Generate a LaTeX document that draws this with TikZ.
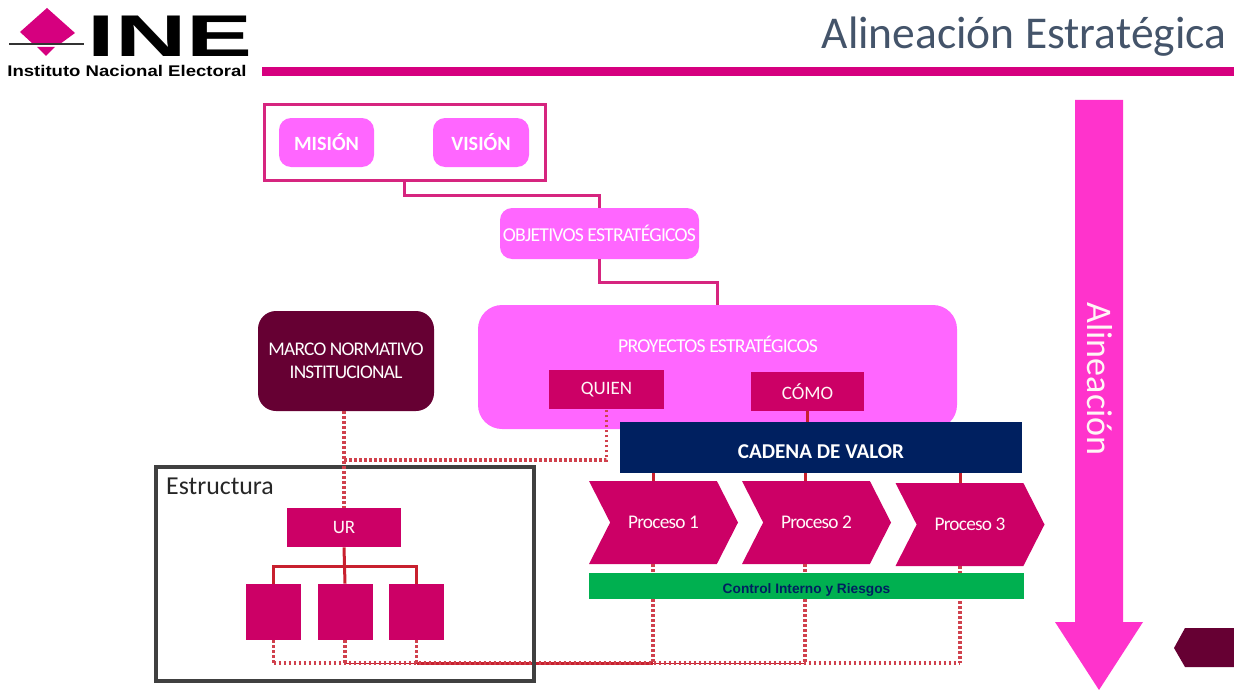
\documentclass[tikz,border=0pt]{standalone}
\usepackage{fontspec}
\setmainfont{Carlito}
\newfontfamily\tightfont[LetterSpace=-4]{Carlito}
\newfontfamily\logofont{Liberation Sans}
\usepackage{tikz}
\usetikzlibrary{calc,positioning,shapes.symbols}
\definecolor{inepink}{HTML}{D6007F}
\definecolor{softpink}{HTML}{FF66FF}
\definecolor{hotpink}{HTML}{FF33CC}
\definecolor{deeppink}{HTML}{CC0066}
\definecolor{wine}{HTML}{660033}
\definecolor{navy}{HTML}{002060}
\definecolor{linkred}{HTML}{C8202E}
\definecolor{framepink}{HTML}{D6257F}
\definecolor{titlegrey}{HTML}{44546A}
\definecolor{greenbar}{HTML}{00B050}

\begin{document}
\begin{tikzpicture}

\tikzset{softbox/.style={fill=softpink,rounded corners=.24cm,text=white,inner sep=0pt},
deepbox/.style={fill=deeppink,text=white!85!pink,inner sep=0pt},
proceso/.style={shape=signal,signal from=west,signal to=east,signal pointer angle=126,fill=deeppink,text=white!90!pink,inner sep=0pt,minimum width=2.98cm,minimum height=1.66cm,font=\fontsize{11}{13}\tightfont},
pinklink/.style={draw=framepink,line width=.06cm},
redlink/.style={draw=linkred,line width=.06cm},
dotlink/.style={draw=linkred!85,line width=.07cm,dash pattern=on .05cm off .05cm}}

\useasboundingbox (0,0) rectangle (24.68,-13.8);

% Header
\fill[inepink] (0.94,-0.16) -- (1.5,-0.66) -- (1.2,-0.88) -- (0.66,-0.88) -- (0.4,-0.64) -- cycle;
\fill[inepink] (0.74,-0.94) -- (1.1,-0.94) -- (0.92,-1.12) -- cycle;
\fill[black!80] (0.18,-0.87) -- (1.68,-0.87) -- (1.68,-0.91) -- (0.18,-0.91) -- cycle;
\node[inner sep=0pt,anchor=center,xscale=1.68,transform shape,font=\fontsize{33.5}{34}\logofont\bfseries] (ine) at (3.4,-0.72) {INE};
\node[inner sep=0pt,xscale=1.2,transform shape,font=\fontsize{8.8}{10}\logofont\bfseries] (inename) at (2.54,-1.42) {Instituto Nacional Electoral};
\fill[inepink] (5.24,-1.34) rectangle (24.68,-1.52);
\node[inner sep=0pt,text=titlegrey,font=\fontsize{25.9}{28}\selectfont] (title) at (20.48,-0.74) {Alineación Estratégica};

% Top boxes
\node[pinklink,draw,minimum width=5.62cm,minimum height=1.5cm,inner sep=0pt] (mv) at (8.09,-2.85) {};
\node[softbox,minimum width=1.9cm,minimum height=.98cm,font=\fontsize{11.5}{13}\bfseries] (mision) at (6.53,-2.85) {MISIÓN};
\node[softbox,minimum width=1.92cm,minimum height=.98cm,font=\fontsize{11.5}{13}\bfseries] (vision) at (9.62,-2.85) {VISIÓN};
\node[softbox,minimum width=3.98cm,minimum height=1.02cm,font=\fontsize{11.2}{13}\tightfont] (obj) at (11.99,-4.67) {OBJETIVOS ESTRATÉGICOS};
\node[softbox,minimum width=9.58cm,minimum height=2.48cm,rounded corners=.48cm] (proy) at (14.35,-7.34) {};
\node[inner sep=0pt,text=white,font=\fontsize{11.2}{13}\tightfont] (proylabel) at (14.36,-6.88) {PROYECTOS ESTRATÉGICOS};
\node[deepbox,minimum width=2.3cm,minimum height=.78cm,font=\fontsize{10.8}{12}\selectfont] (quien) at (12.13,-7.79) {QUIEN};
\node[deepbox,minimum width=2.26cm,minimum height=.78cm,font=\fontsize{10.8}{12}\selectfont] (como) at (16.15,-7.83) {CÓMO};
\node[fill=wine,rounded corners=.36cm,text=white,inner sep=0pt,minimum width=3.52cm,minimum height=2cm,align=center,font=\fontsize{11}{13}\tightfont] (marco) at (6.92,-7.22) {MARCO NORMATIVO\\INSTITUCIONAL};

\draw[pinklink] (mv.south) -- ++(0,-.28) -| (obj.north);
\draw[pinklink] (obj.south) -- ++(0,-.46) -| (proy.north);

% Structure
\coordinate (bottom) at (0,-13.26);
\node[deepbox,minimum width=2.28cm,minimum height=.78cm,font=\fontsize{10.8}{12}\selectfont] (ur) at (6.88,-10.55) {UR};
\foreach \n/\x in {1/5.47,2/6.9,3/8.33} \node[deepbox,minimum width=1.1cm,minimum height=1.12cm] (s\n) at (\x,-12.24) {};

% Edges behind the frame
\coordinate (drop1) at (13.06,-13);
\coordinate (drop2) at (16.1,-13);
\coordinate (drop3) at (19.2,-13);
\draw[redlink] (s3.south |- bottom) -- (drop1 |- bottom);
\draw[redlink,line width=.02cm] (drop1 |- bottom) -- (drop2 |- bottom);
\draw[redlink,line width=.02cm] (s2.south |- bottom) -- (s3.south |- bottom);
\draw[dotlink] (s1.south |- bottom) -- (drop3 |- bottom);
\foreach \n in {1,2,3} \draw[dotlink] (s\n.south) -- (s\n.south |- bottom);

% Estructura frame
\node[draw=black!75,line width=.07cm,minimum width=7.56cm,minimum height=4.28cm,inner sep=0pt] (estructura) at (6.9,-11.48) {};
\node[inner sep=0pt,text=black!85,font=\fontsize{14.7}{16}\selectfont] (estlabel) at (4.4,-9.72) {Estructura};

\coordinate (junc) at (ur.north |- 0,-9.2);
\draw[dotlink] (marco.south -| ur.north) -- (ur.north);
\draw[dotlink] (junc) -| (quien.south);
\draw[redlink] (ur.south) -- (s2.north);
\coordinate (bar) at (6.88,-11.32);
\draw[redlink] (s1.north) |- (bar) -| (s3.north);

% Value chain
\node[fill=navy,text=white,inner sep=0pt,minimum width=8.04cm,minimum height=1.02cm,text height=12pt,text depth=0pt,font=\fontsize{12}{14}\bfseries] (cadena) at (16.42,-8.95) {CADENA DE VALOR};
\node[proceso] (p1) at (13.27,-10.45) {Proceso 1};
\node[proceso] (p2) at (16.33,-10.45) {Proceso 2};
\node[proceso] (p3) at (19.4,-10.49) {Proceso 3};
\draw[redlink] (como.south) -- (como.south |- cadena.north);
\foreach \n in {1,2,3} \draw[redlink] (drop\n |- cadena.south) -- (drop\n |- p\n.north);
\foreach \n in {1,2,3} \draw[dotlink] (drop\n |- p\n.south) -- (drop\n |- bottom);
\node[fill=greenbar,text=navy,inner sep=0pt,minimum width=8.7cm,minimum height=.52cm,text height=8pt,text depth=0pt,font=\fontsize{7.8}{9}\logofont\bfseries] (control) at (16.13,-11.72) {Control Interno y Riesgos};

% Alignment arrow
\fill[hotpink] (21.5,-2) -- (22.46,-2) -- (22.46,-12.44) -- (22.86,-12.44) -- (21.98,-13.8) -- (21.1,-12.44) -- (21.5,-12.44) -- cycle;
\node[rotate=-90,inner sep=0pt,text=white!85!pink,font=\fontsize{20.5}{22}\selectfont] (alineacion) at (22,-7.58) {Alineación};
\fill[wine] (24.68,-12.56) -- (23.7,-12.56) -- (23.48,-12.96) -- (23.7,-13.34) -- (24.68,-13.34) -- cycle;

\end{tikzpicture}
\end{document}
